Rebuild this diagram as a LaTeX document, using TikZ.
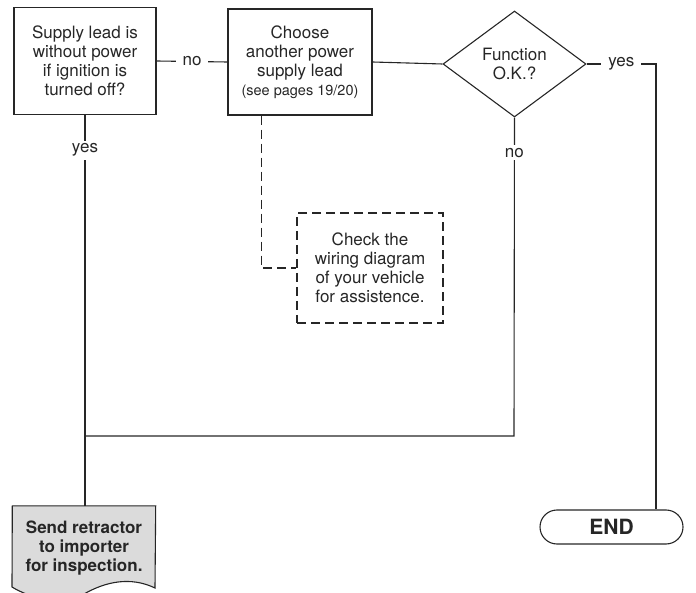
\documentclass[tikz,border=0pt]{standalone}
\usepackage{fontspec}
\setmainfont{TeX Gyre Heros}
\usetikzlibrary{shapes.geometric,shapes.misc,calc}
\begin{document}
\begin{tikzpicture}[x=1pt,y=-1pt,
  every node/.style={font=\fontsize{17}{19}\selectfont, text=black!85},
  conn/.style={line width=1.1pt, draw=black!85},
  box/.style={draw=black!85, line width=1.1pt, rectangle, align=center, inner sep=0pt},
  decide/.style={draw=black!85, line width=1.1pt, diamond, align=center, inner sep=0pt, minimum width=143pt, minimum height=106pt},
  note/.style={draw=black!85, line width=1.1pt, dash pattern=on 9pt off 5pt, rectangle, align=center, inner sep=0pt},
  term/.style={draw=black!85, line width=1.1pt, rounded rectangle, inner sep=0pt, minimum width=143pt, minimum height=34pt, font=\fontsize{21}{24}\selectfont\bfseries},
  lbl/.style={fill=white, inner xsep=7pt, inner ysep=3pt}
]
\useasboundingbox (0,0) rectangle (696,593);
\clip (0,0) rectangle (696,593);

\node[box, minimum width=142pt, minimum height=107pt] (b1) at (85,61)
  {Supply lead is\\without power\\if ignition is\\turned off?};
\node[box, minimum width=144pt, minimum height=106pt] (b2) at (300,62)
  {Choose\\another power\\supply lead\\{\fontsize{14.5}{17}\selectfont(see pages 19/20)}};
\node[decide] (d) at (514.5,64) {Function\\O.K.?};
\node[note, minimum width=146pt, minimum height=110pt] (b3) at (370,268)
  {Check the\\wiring diagram\\of your vehicle\\for assistence.};
\node[term] (end) at (611.5,527) {END};

% document shape
\node[rectangle, inner sep=0pt, minimum width=143pt, minimum height=84pt, align=center,
      font=\fontsize{17}{19}\selectfont\bfseries] (doc) at (84,548) {};
\fill[gray!28] (doc.north west) -- (doc.north east) -- (155,588)
  .. controls (130,576) and (105,582) .. (84,594)
  .. controls (60,606) and (30,598) .. (12,587) -- cycle;
\draw[conn] (doc.north west) -- (doc.north east) -- (155,588)
  .. controls (130,576) and (105,582) .. (84,594)
  .. controls (60,606) and (30,598) .. (12,587) -- cycle;
\node[align=center, font=\fontsize{17}{19}\selectfont\bfseries] at (doc.center)
  {Send retractor\\to importer\\for inspection.};

% connectors
\draw[conn] (b1.east) -- node[lbl, midway]{no} (b2.west);
\draw[conn] (b2.east) -- (d.west);
\coordinate (yc) at (656,64);
\draw[conn] (d.east) -- node[lbl, midway]{yes} (yc) -- (yc |- end.north);
\coordinate (c2) at (514,436);
\draw[conn] (d.south) -- node[lbl, pos=0.11]{no} (c2) -- (c2 -| doc.north);
\draw[conn] (b1.south) -- node[lbl, pos=0.09]{yes} (b1.south |- doc.north);
\draw[conn, dash pattern=on 9pt off 5pt] ($(b2.south west)+(34,0)$) |- (b3.west);
\end{tikzpicture}
\end{document}
